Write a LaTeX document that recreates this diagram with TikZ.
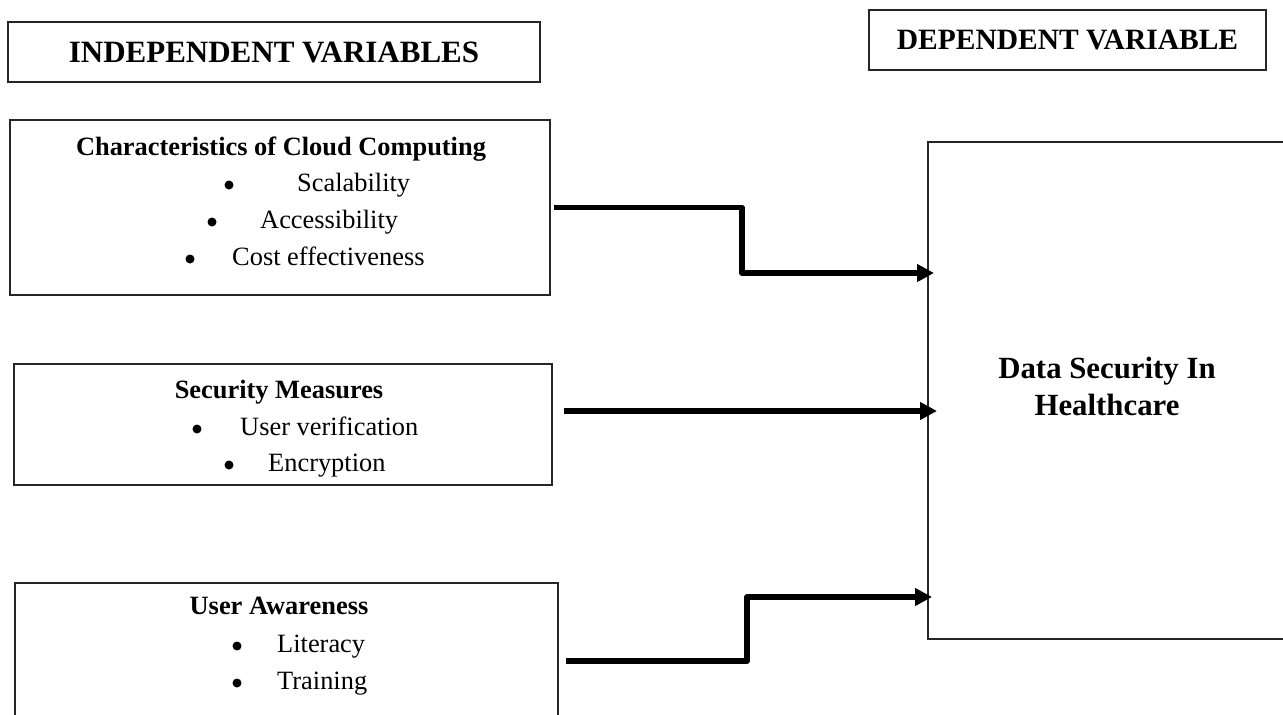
\documentclass[tikz,border=0pt]{standalone}
\usepackage{fontspec}
\setmainfont{Liberation Serif}
\usetikzlibrary{arrows.meta}
\tikzset{
  box/.style={draw=black!85, line width=1.2pt, inner sep=0pt, fill=none},
  big/.style={font=\bfseries\fontsize{31}{36}\selectfont, inner sep=0pt},
  head/.style={font=\bfseries\fontsize{26.4}{30}\selectfont, inner sep=0pt, anchor=base},
  item/.style={font=\fontsize{26.4}{30}\selectfont, inner sep=0pt, anchor=base west},
  bul/.style={circle, fill=black, inner sep=0pt, minimum size=9pt},
  arr/.style={line width=5.5pt, line join=round, -{Triangle[length=17pt,width=17pt]}}
}
\begin{document}
\begin{tikzpicture}[x=1pt,y=-1pt]
\useasboundingbox (0,0) rectangle (1283,715);
% header boxes
\node[box, minimum width=532, minimum height=60] (ivbox) at (274,52) {};
\node[big] (ivtxt) at (274,52) {INDEPENDENT VARIABLES};
\node[box, minimum width=397, minimum height=60] (dvbox) at (1067.5,40) {};
\node[big, font=\bfseries\fontsize{29.5}{34}\selectfont] (dvtxt) at (1067.5,40) {DEPENDENT VARIABLE};
% characteristics box
\node[box, minimum width=540, minimum height=175] (char) at (280,207.5) {};
\node[head] (charh) at (281,155) {Characteristics of Cloud Computing};
\node[bul] (b11) at (229,185) {};
\node[item] (i11) at (297,191) {Scalability};
\node[bul] (b12) at (212,222) {};
\node[item] (i12) at (260,228) {Accessibility};
\node[bul] (b13) at (190,259) {};
\node[item] (i13) at (232,265) {Cost effectiveness};
% security box
\node[box, minimum width=538, minimum height=121] (sec) at (283,424.5) {};
\node[head] (sech) at (279,398) {Security Measures};
\node[bul] (b21) at (197,429) {};
\node[item] (i21) at (240,435) {User verification};
\node[bul] (b22) at (229,465) {};
\node[item] (i22) at (268,471) {Encryption};
% user awareness box
\node[box, minimum width=543, minimum height=156] (ua) at (286.5,661) {};
\node[head] (uah) at (279,614) {User Awareness};
\node[bul] (b31) at (237,646) {};
\node[item] (i31) at (277,652) {Literacy};
\node[bul] (b32) at (237,683) {};
\node[item] (i32) at (277,689) {Training};
% dependent box
\node[box, minimum width=372, minimum height=497] (ds) at (1114,390.5) {};
\node[big, font=\bfseries\fontsize{30.8}{37}\selectfont, align=center] (dstxt) at (1107,386) {Data Security In\\Healthcare};
% arrow coordinates
\coordinate (c1a) at (742,207.5);
\coordinate (c1b) at (742,273);
\coordinate (t1) at (934,273);
\coordinate (t2) at (937,411);
\coordinate (c3a) at (747,661);
\coordinate (c3b) at (747,597);
\coordinate (t3) at (932,597);
\draw[arr] ([xshift=3pt]char.east) -- (c1a) -- (c1b) -- (t1);
\draw[arr] ([xshift=11pt]sec.east |- t2) -- (t2);
\draw[arr] ([xshift=7pt]ua.east) -- (c3a) -- (c3b) -- (t3);
\end{tikzpicture}
\end{document}
